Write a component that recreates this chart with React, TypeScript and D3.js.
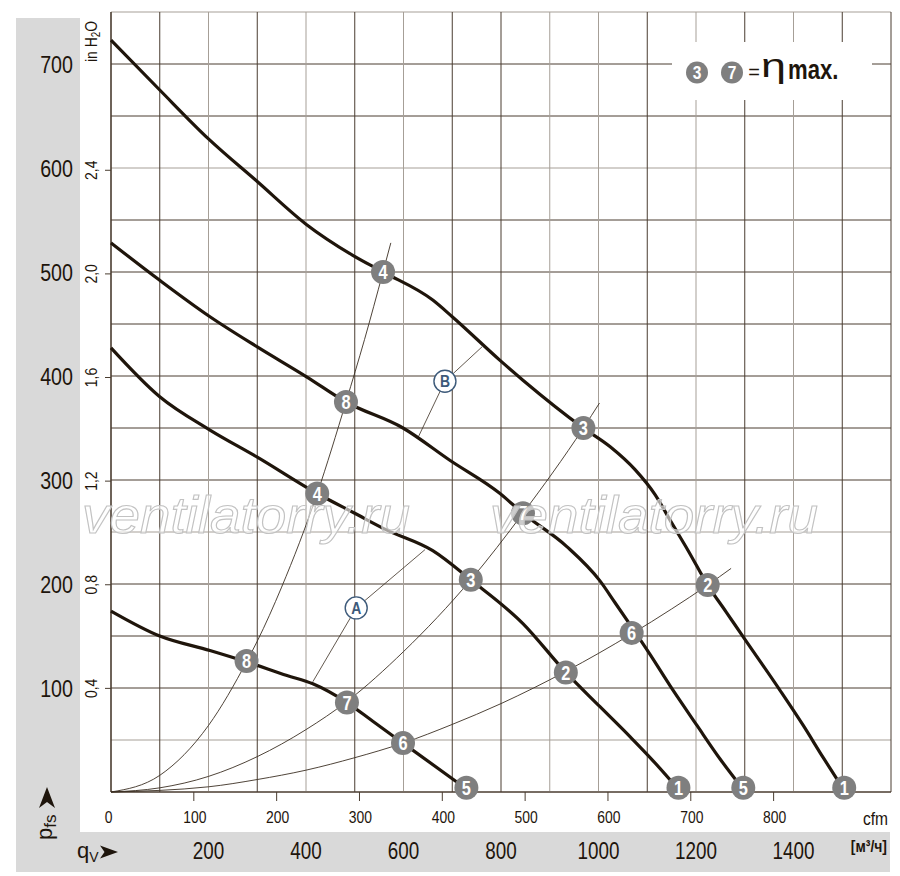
import React from "react";
import * as d3 from "d3";

// ---------- data (x: m³/h, y: Pa) ----------
const curveSpeed1: [number, number][] = [
  [0, 723], [100, 675], [200, 628], [300, 587], [400, 546], [496, 516], [558, 500],
  [660, 473], [700, 457], [798, 415], [845, 396], [969, 350], [1024, 332], [1075, 310],
  [1116, 286], [1151, 258], [1184, 232], [1224, 199], [1262, 173], [1300, 147],
  [1372, 98], [1420, 64], [1461, 33], [1502, 3],
];
const curveSpeed2: [number, number][] = [
  [0, 528], [100, 492], [203, 457], [300, 428], [402, 399], [482, 375], [599, 350],
  [695, 319], [798, 287], [845, 268], [935, 236], [1003, 203], [1034, 182], [1069, 158],
  [1106, 132], [1147, 102], [1202, 64], [1249, 32], [1296, 3],
];
const curveSpeed3: [number, number][] = [
  [0, 427], [100, 380], [203, 348], [300, 322], [423, 287], [500, 268], [565, 252],
  [660, 232], [738, 204], [845, 162], [933, 115], [1003, 82], [1065, 53], [1112, 30],
  [1163, 3],
];
const curveSpeed4: [number, number][] = [
  [0, 174], [100, 150], [203, 136], [279, 125], [361, 112], [414, 104], [484, 86],
  [537, 68], [599, 47], [729, 3],
];

// system (resistance) curves from origin
const system1: [number, number][] = [
  [0, 0], [100, 16], [200, 64], [279, 126], [300, 145], [350, 197], [423, 287],
  [482, 375], [520, 435], [558, 500], [574, 528],
];
const system2: [number, number][] = [
  [0, 0], [100, 4], [200, 15], [300, 34], [400, 60], [484, 87], [600, 135],
  [738, 204], [845, 268], [969, 350], [1002, 374],
];
const system3: [number, number][] = [
  [0, 0], [200, 5], [300, 12], [400, 21], [500, 33], [599, 47], [700, 65], [800, 85],
  [933, 116], [1068, 152], [1150, 176], [1224, 199], [1272, 215],
];
const lineA: [number, number][] = [[414, 106], [503, 177], [644, 233]];
const lineB: [number, number][] = [[630, 341], [685, 395], [761, 428]];

// numbered operating points [m³/h, Pa, label]
const points1: [number, number, string][] = [[558, 500, "4"], [969, 350, "3"], [1224, 199, "2"], [1504, 4, "1"]];
const points2: [number, number, string][] = [[482, 375, "8"], [845, 268, "7"], [1068, 153, "6"], [1297, 4, "5"]];
const points3: [number, number, string][] = [[423, 287, "4"], [738, 204, "3"], [933, 115, "2"], [1164, 4, "1"]];
const points4: [number, number, string][] = [[278, 126, "8"], [484, 86, "7"], [599, 47, "6"], [729, 4, "5"]];
const letterPoints: [number, number, string][] = [[503, 177, "A"], [685, 395, "B"]];
const legendPoints = ["3", "7"];

// axis labels
const paLabels = [100, 200, 300, 400, 500, 600, 700];
const inH2OValues = [0.4, 0.8, 1.2, 1.6, 2.0, 2.4];
const inH2OLabels = ["0,4", "0,8", "1,2", "1,6", "2,0", "2,4"];
const cfmLabels = [0, 100, 200, 300, 400, 500, 600, 700, 800];
const m3hLabels = [200, 400, 600, 800, 1000, 1200, 1400];
const darkVerticals = [0, 100, 300, 500, 700, 800, 1100, 1300, 1500, 1600];
const lightHorizontals = [50, 250, 600, 750];

const CFM = 1.699; // m³/h per cfm
const INH2O = 249.09; // Pa per inch H2O

const FR = "'Liberation Sans',Arial,Helvetica,sans-serif";
const INK = "#1e150c";
const DARK = "#4a3d30";
const LIGHT = "#a69f97";
const NARROW = 0.82;

type NTProps = {
  x: number;
  y: number;
  size: number;
  anchor?: "start" | "middle" | "end";
  weight?: string;
  fill?: string;
  rot?: number;
  dy?: string;
  children: React.ReactNode;
};

// condensed text: Liberation Sans squeezed horizontally like Arial Narrow
function NT({ x, y, size, anchor = "start", weight = "normal", fill = INK, rot = 0, dy, children }: NTProps) {
  return (
    <text
      transform={`translate(${x},${y})${rot ? ` rotate(${rot})` : ""} scale(${NARROW},1)`}
      fontFamily={FR}
      fontSize={size}
      textAnchor={anchor}
      fontWeight={weight}
      fill={fill}
      dy={dy}
    >
      {children}
    </text>
  );
}

export default function App() {
  const x = d3.scaleLinear().domain([0, 1600]).range([111, 891]);
  const y = d3.scaleLinear().domain([0, 750]).range([792, 12]);
  const smooth = d3
    .line<[number, number]>()
    .x((d) => x(d[0]))
    .y((d) => y(d[1]))
    .curve(d3.curveMonotoneX);
  const straight = d3
    .line<[number, number]>()
    .x((d) => x(d[0]))
    .y((d) => y(d[1]));

  const vGrid = d3.range(0, 1601, 100);
  const hGrid = d3.range(0, 751, 50);

  const badge = (cx: number, cy: number, label: string, key: string, r = 12, size = 20) => (
    <g key={key} transform={`translate(${cx},${cy})`}>
      <circle r={r} fill="#7f7f7f" />
      <NT x={0} y={0} size={size} anchor="middle" weight="bold" fill="#fff" dy="0.36em">
        {label}
      </NT>
    </g>
  );

  return (
    <svg
      width={900}
      height={876}
      style={{ position: "absolute", left: 0, top: 0, background: "#fff" }}
    >
      {/* grey panels */}
      <rect x={16} y={18} width={64} height={854} fill="#d9d9d9" />
      <rect x={16} y={832} width={874} height={40} fill="#d9d9d9" />

      {/* grid */}
      {hGrid.map((v) => (
        <line
          key={"h" + v}
          x1={x(0)}
          x2={x(1600)}
          y1={y(v)}
          y2={y(v)}
          stroke={lightHorizontals.includes(v) ? LIGHT : DARK}
          strokeWidth={1}
        />
      ))}
      {vGrid.map((v) => (
        <line
          key={"v" + v}
          x1={x(v)}
          x2={x(v)}
          y1={y(750)}
          y2={y(0)}
          stroke={darkVerticals.includes(v) ? DARK : LIGHT}
          strokeWidth={1}
        />
      ))}
      <line x1={x(0)} x2={x(1600)} y1={y(0)} y2={y(0)} stroke={DARK} strokeWidth={1.2} />
      <line x1={x(0)} x2={x(0)} y1={y(750)} y2={y(0)} stroke={DARK} strokeWidth={1.2} />

      {/* legend box */}
      <rect x={672} y={42} width={200} height={58} fill="#fff" />
      {legendPoints.map((l, i) => badge(697 + i * 35, 72.5, l, "lg" + l, 11, 19))}
      <text x={754} y={79} textAnchor="middle" fontFamily={FR} fontSize={20} fill={INK}>=</text>
      <text x={761} y={77} fontFamily={FR} fontSize={33} fill={INK} textLength={25} lengthAdjust="spacingAndGlyphs">η</text>
      <NT x={788} y={78.5} size={27} weight="bold">max.</NT>

      {/* system curves */}
      {[system1, system2, system3].map((s, i) => (
        <path key={"s" + i} d={smooth(s) || ""} fill="none" stroke="#3b2f22" strokeWidth={0.9} />
      ))}
      {[lineA, lineB].map((s, i) => (
        <path key={"l" + i} d={straight(s) || ""} fill="none" stroke="#3b2f22" strokeWidth={0.8} />
      ))}

      {/* fan curves */}
      {[curveSpeed1, curveSpeed2, curveSpeed3, curveSpeed4].map((c, i) => (
        <path key={"c" + i} d={smooth(c) || ""} fill="none" stroke="#1f150b" strokeWidth={3.2} strokeLinejoin="round" />
      ))}

      {/* markers */}
      {[points1, points2, points3, points4].map((pts, j) =>
        pts.map((p, i) => badge(x(p[0]), y(p[1]), p[2], `m${j}-${i}`))
      )}
      {letterPoints.map((p) => (
        <g key={"L" + p[2]} transform={`translate(${x(p[0])},${y(p[1])})`}>
          <circle r={11} fill="#fff" stroke="#3d5a7a" strokeWidth={1.4} />
          <NT x={0} y={0} size={17} anchor="middle" weight="bold" fill="#3d5a7a" dy="0.36em">
            {p[2]}
          </NT>
        </g>
      ))}

      {/* Pa axis labels */}
      {paLabels.map((v) => (
        <NT key={"pa" + v} x={73} y={y(v)} dy="0.36em" anchor="end" size={24}>
          {v}
        </NT>
      ))}
      {/* inH2O labels */}
      {inH2OValues.map((v, i) => (
        <g key={"in" + v}>
          <line x1={105} x2={111} y1={y(v * INH2O)} y2={y(v * INH2O)} stroke={DARK} strokeWidth={1} />
          <NT x={97} y={y(v * INH2O)} rot={-90} anchor="middle" size={17}>
            {inH2OLabels[i]}
          </NT>
        </g>
      ))}
      <NT x={97} y={62} rot={-90} size={17}>
        in H<tspan fontSize={12} dy={3}>2</tspan>
        <tspan dy={-3}>O</tspan>
      </NT>

      {/* cfm axis */}
      {cfmLabels.map((v) => (
        <g key={"cfm" + v}>
          {v > 0 && (
            <line x1={x(v * CFM)} x2={x(v * CFM)} y1={792} y2={801} stroke={DARK} strokeWidth={1} />
          )}
          <NT x={v === 0 ? 108.5 : x(v * CFM) + 1} y={823} anchor="middle" size={17}>
            {v}
          </NT>
        </g>
      ))}
      <NT x={888} y={825} anchor="end" size={19}>cfm</NT>

      {/* m³/h axis */}
      {m3hLabels.map((v) => (
        <NT key={"m" + v} x={x(v)} y={859} anchor="middle" size={23}>
          {v}
        </NT>
      ))}
      <NT x={887} y={852} anchor="end" size={17} weight="bold">[м³/ч]</NT>

      {/* qV label */}
      <text x={77} y={858} fontFamily={FR} fontSize={22} fill={INK}>
        q<tspan fontSize={14} dy={4}>V</tspan>
      </text>
      <path d="M100,845.5 L118,852 L100,858.5 L104.5,852 Z" fill={INK} />

      {/* pfs label */}
      <text transform="translate(52,840) rotate(-90)" fontFamily={FR} fontSize={22} fill={INK}>
        p<tspan fontSize={17} dy={4}>fs</tspan>
      </text>
      <path d="M39,808 L47,787 L55,808 L47,802 Z" fill={INK} />

      {/* watermark */}
      {[82, 490].map((wx) => (
        <text
          key={"wm" + wx}
          x={wx}
          y={533}
          fontFamily={FR}
          fontStyle="italic"
          fontSize={52}
          textLength={328}
          lengthAdjust="spacingAndGlyphs"
          fill="#fff"
          fillOpacity={0.6}
          stroke="#c2c2c2"
          strokeWidth={1.1}
        >
          ventilatorry.ru
        </text>
      ))}
    </svg>
  );
}
